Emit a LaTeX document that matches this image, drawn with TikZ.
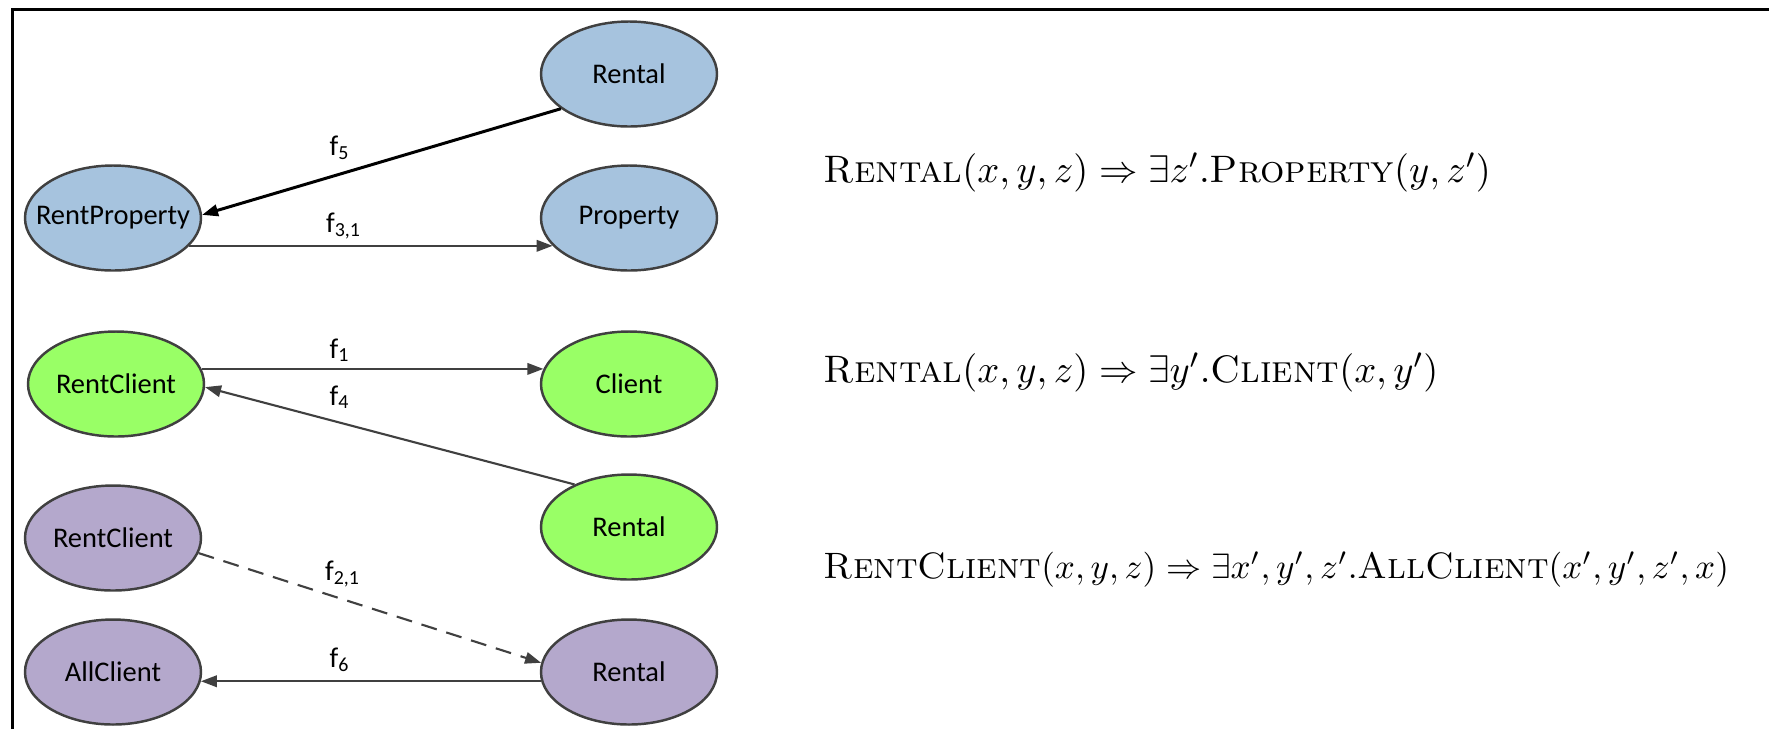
\documentclass[tikz,border=0pt]{standalone}
\usepackage{fontspec}
\newfontfamily\calfont{Carlito}
\usetikzlibrary{arrows.meta,shapes.geometric}
\definecolor{propblue}{RGB}{166,195,222}
\definecolor{clientgreen}{RGB}{153,255,102}
\definecolor{allpurple}{RGB}{180,168,204}
\definecolor{edgegray}{RGB}{64,64,64}
\tikzset{
	ovalA/.style={
		ellipse, draw=edgegray, line width=0.7pt, inner ysep=0pt, inner xsep=-2.5mm,
		minimum width=17.6mm, minimum height=10.5mm,
		font={\calfont\fontsize{8.1}{9.7}\selectfont}
	},
	ovalB/.style={ovalA, fill=propblue},
	ovalG/.style={ovalA, fill=clientgreen},
	ovalP/.style={ovalA, fill=allpurple},
	arrA/.style={->, draw=edgegray, line width=0.6pt},
	lblA/.style={inner sep=0pt, font={\calfont\fontsize{8.1}{9.7}\selectfont}},
	ruleA/.style={anchor=base west, inner sep=0pt, font={\fontsize{10.9}{13}\selectfont}},
	>={Triangle[length=1.6mm,width=1.15mm]},
}

\begin{document}
\begin{tikzpicture}[x=0.1mm, y=-0.1mm]
\useasboundingbox (0,0) rectangle (1769,729);
\draw[line width=0.3mm] (12,729) -- (12,9) -- (1769,9);
% property group
\node[ovalB] (rental1) at (629,74) {Rental};
\node[ovalB] (rentprop) at (113,218) {RentProperty};
\node[ovalB] (property) at (629,218) {Property};
% client group
\node[ovalG] (rentclient) at (116,384) {RentClient};
\node[ovalG] (client) at (629,384) {Client};
\node[ovalG] (rental2) at (629,527) {Rental};
% allclient group
\node[ovalP] (rentclient2) at (113,538) {RentClient};
\node[ovalP] (allclient) at (113,672) {AllClient};
\node[ovalP] (rental3) at (629,672) {Rental};
\path  (rental1.207) edge [arrA, draw=black, line width=0.85pt] (rentprop.2);
\path  (rentprop.340) edge [arrA] (property.200);
\path  (rentclient.10) edge [arrA] (client.170);
\path  (rental2.142) edge [arrA] (rentclient.358);
\path  (rentclient2.350) edge [arrA, dash pattern=on 1.6mm off 1mm] (rental3.174);
\path  (rental3.186) edge [arrA] (allclient.354);
\node[lblA] (lf5) at (340,148) {f\textsubscript{5}};
\node[lblA] (lf31) at (344,226) {f\textsubscript{3,1}};
\node[lblA] (lf1) at (340,350) {f\textsubscript{1}};
\node[lblA] (lf4) at (340,397) {f\textsubscript{4}};
\node[lblA] (lf21) at (343,574) {f\textsubscript{2,1}};
\node[lblA] (lf6) at (340,660) {f\textsubscript{6}};
% rules
\node[ruleA] (rule1) at (823,182) {$\textsc{Rental}(x,y,z) \Rightarrow \exists z'.\textsc{Property}(y,z')$};
\node[ruleA] (rule2) at (823,382) {$\textsc{Rental}(x,y,z) \Rightarrow \exists y'.\textsc{Client}(x,y')$};
\node[ruleA, font={\fontsize{10.45}{12.5}\selectfont}] (rule3) at (823,578) {$\textsc{RentClient}(x,y,z) \Rightarrow \exists x',y',z'.\textsc{AllClient}(x',y',z',x)$};
\end{tikzpicture}
\end{document}
